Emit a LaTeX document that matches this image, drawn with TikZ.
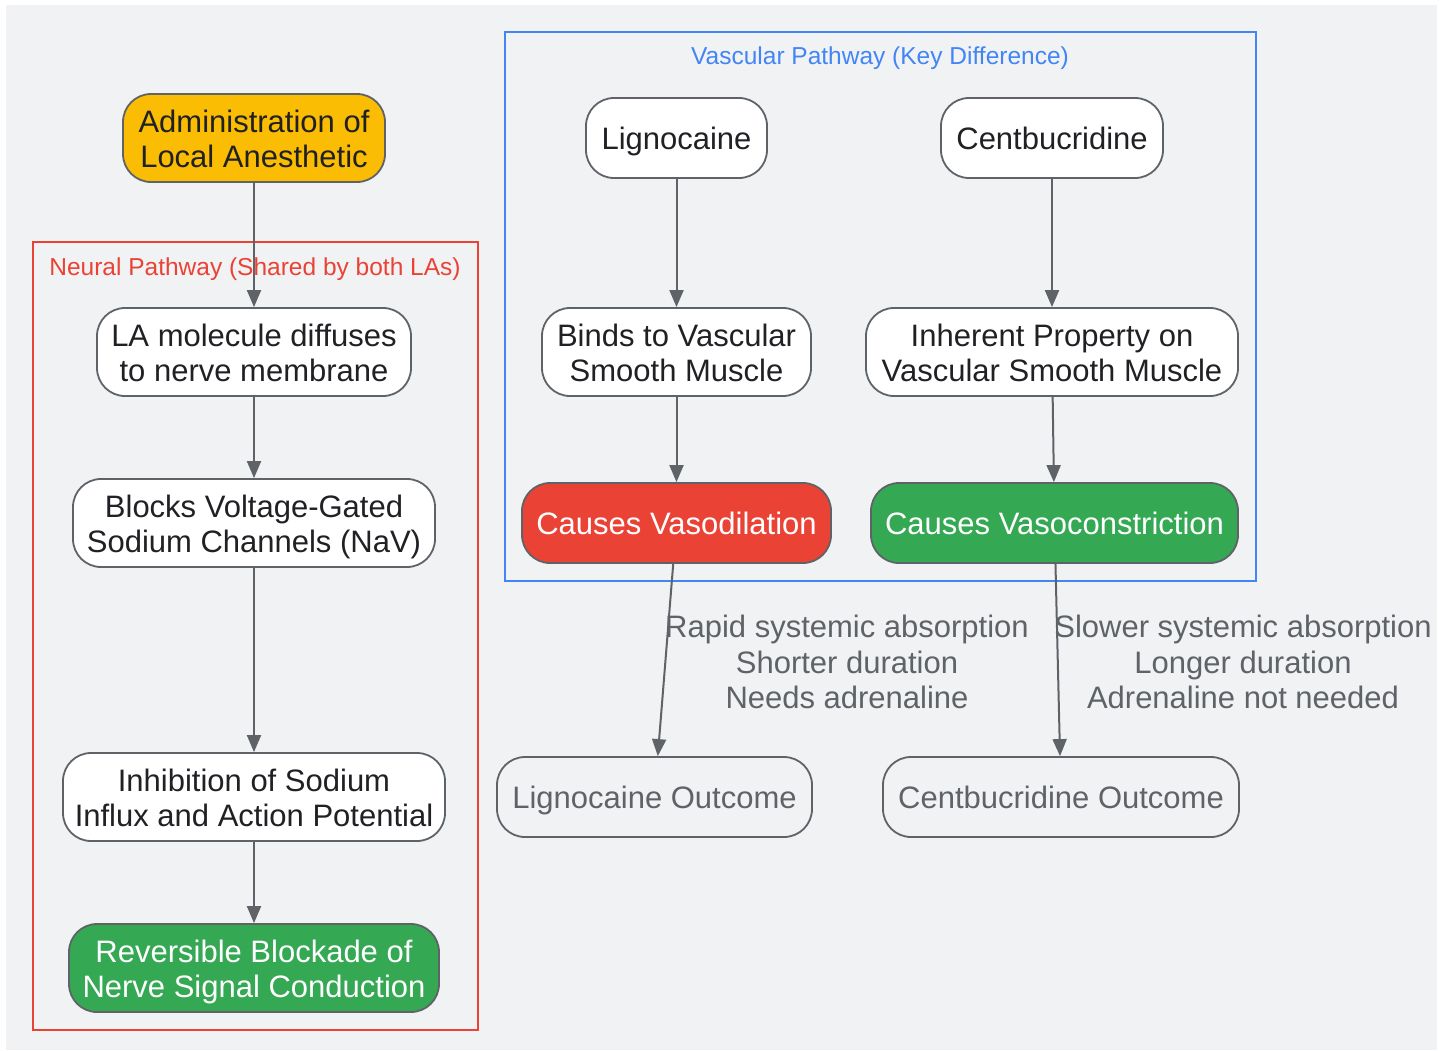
\documentclass[tikz,border=0pt]{standalone}
\usepackage{fontspec}
\setmainfont{Liberation Sans}
\usetikzlibrary{arrows.meta}
\definecolor{bggray}{HTML}{F1F2F4}
\definecolor{edgegray}{HTML}{5F6368}
\definecolor{textdark}{HTML}{202124}
\definecolor{layellow}{HTML}{FBBC04}
\definecolor{lared}{HTML}{EA4335}
\definecolor{lagreen}{HTML}{34A853}
\definecolor{lablue}{HTML}{4285F4}
\begin{document}
\begin{tikzpicture}[x=1pt,y=-1pt,
 box/.style={draw=edgegray,line width=1.8pt,rounded corners=28pt,fill=white,text=textdark,
  align=center,inner sep=0pt,font=\fontsize{31}{35}\selectfont,
  text height=29pt,text depth=6pt},
 twoline/.style={text height=64pt},
 startbox/.style={box,fill=layellow},
 badbox/.style={box,fill=lared,text=white},
 goodbox/.style={box,fill=lagreen,text=white},
 outbox/.style={box,fill=bggray,text=edgegray},
 arr/.style={draw=edgegray,line width=2pt,-{Triangle[length=17pt,width=14pt]}},
 edgelbl/.style={align=center,text=edgegray,inner sep=0pt,font=\fontsize{31}{35.5}\selectfont},
 clusterlbl/.style={inner sep=0pt,font=\fontsize{24.5}{28}\selectfont,
  text height=22pt,text depth=4.5pt}]
 \useasboundingbox[fill=white](0,0) rectangle (1448,1050);
 \fill[bggray](6,5) rectangle (1437,1050);
 \draw[lared,line width=1.8pt](33,242) rectangle (478,1030);
 \draw[lablue,line width=1.8pt](505,32) rectangle (1256,581);
 \node[clusterlbl,text=lared] (neurallbl) at (255,267) {Neural Pathway (Shared by both LAs)};
 \node[clusterlbl,text=lablue] (vasclbl) at (880,56) {Vascular Pathway (Key Difference)};
 \node[edgelbl] (lignolbl) at (847,662) {Rapid systemic absorption\\Shorter duration\\Needs adrenaline};
 \node[edgelbl] (centlbl) at (1243,662) {Slower systemic absorption\\Longer duration\\Adrenaline not needed};
 \node[startbox,twoline,minimum width=262pt,minimum height=88pt] (admin) at (254,138) {Administration of\\Local Anesthetic};
 \node[box,twoline,minimum width=314pt,minimum height=88pt] (diffuse) at (254,352) {LA molecule diffuses\\to nerve membrane};
 \node[box,twoline,minimum width=362pt,minimum height=88pt] (blocks) at (254,523) {Blocks Voltage-Gated\\Sodium Channels (NaV)};
 \node[box,twoline,minimum width=382pt,minimum height=88pt] (inhib) at (254,797) {Inhibition of Sodium\\Influx and Action Potential};
 \node[goodbox,twoline,minimum width=370pt,minimum height=88pt] (blockade) at (254,968) {Reversible Blockade of\\Nerve Signal Conduction};
 \node[box,minimum width=181pt,minimum height=80pt] (ligno) at (676.5,138) {Lignocaine};
 \node[box,minimum width=222pt,minimum height=80pt] (centb) at (1052,138) {Centbucridine};
 \node[box,twoline,minimum width=269pt,minimum height=88pt] (binds) at (676.5,352) {Binds to Vascular\\Smooth Muscle};
 \node[box,twoline,minimum width=372pt,minimum height=88pt] (inherent) at (1052,352) {Inherent Property on\\Vascular Smooth Muscle};
 \node[badbox,minimum width=309pt,minimum height=80pt] (dilat) at (676.5,523) {Causes Vasodilation};
 \node[goodbox,minimum width=367pt,minimum height=80pt] (constr) at (1054.5,523) {Causes Vasoconstriction};
 \node[outbox,minimum width=315pt,minimum height=80pt] (lignoout) at (654.5,797) {Lignocaine Outcome};
 \node[outbox,minimum width=356pt,minimum height=80pt] (centbout) at (1061,797) {Centbucridine Outcome};
 \draw[arr](admin)--(diffuse);
 \draw[arr](diffuse)--(blocks);
 \draw[arr](blocks)--(inhib);
 \draw[arr](inhib)--(blockade);
 \draw[arr](ligno)--(binds);
 \draw[arr](binds)--(dilat);
 \draw[arr](centb)--(inherent);
 \draw[arr](inherent)--(constr);
 \draw[arr](dilat)--(lignoout);
 \draw[arr](constr)--(centbout);
\end{tikzpicture}
\end{document}
